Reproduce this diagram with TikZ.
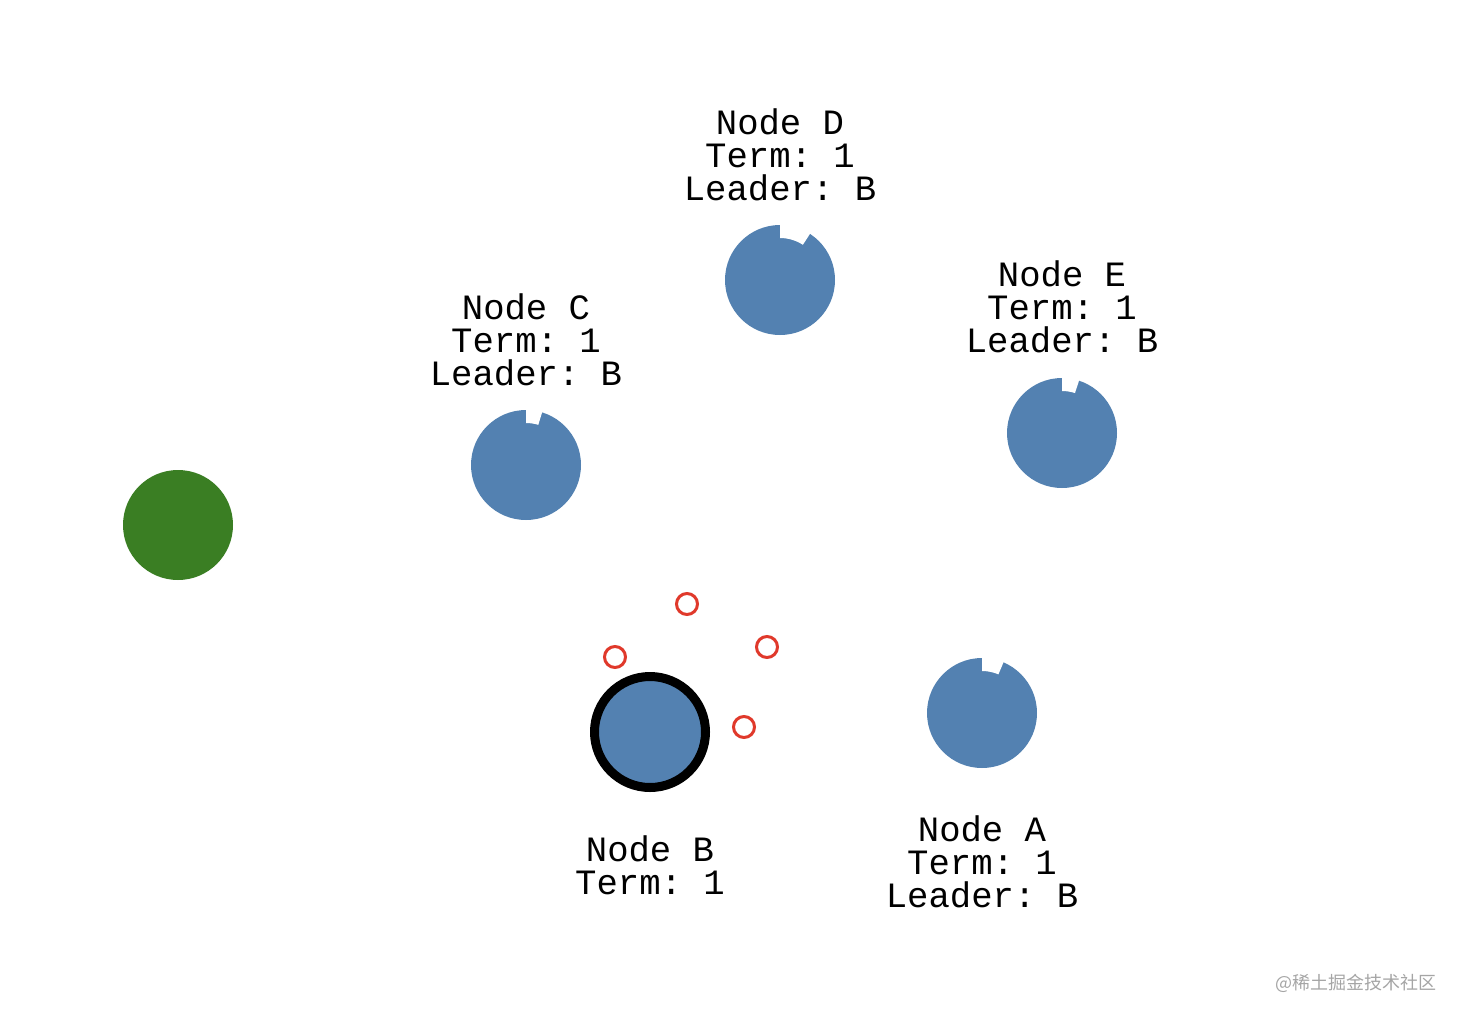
\documentclass[tikz,border=0pt]{standalone}
\usepackage{fontspec}
\setmonofont{Liberation Mono}
\newfontfamily\cjkfont{Noto Sans CJK SC}
\definecolor{nodeblue}{HTML}{5381B1}
\definecolor{candgreen}{HTML}{3A7E23}
\definecolor{votered}{HTML}{E0392B}
\definecolor{wmgray}{HTML}{A5A5A5}
\tikzset{
  lbl/.style={align=center, inner sep=0pt, anchor=base, font=\ttfamily\fontsize{35.6}{33}\selectfont},
  vote/.style={draw=votered, line width=3pt, fill=none},
  notch/.style={fill=white},
}
\begin{document}
\begin{tikzpicture}[x=1pt, y=-1pt]
\useasboundingbox (0,0) rectangle (1462,1020);
% centres
\coordinate (D) at (780,280);
\coordinate (C) at (526,465);
\coordinate (E) at (1062,433);
\coordinate (A) at (982,713);
\coordinate (B) at (650,732);
\coordinate (G) at (178,525);
% follower circles
\fill[nodeblue] (D) circle[radius=55];
\fill[nodeblue] (C) circle[radius=55];
\fill[nodeblue] (E) circle[radius=55];
\fill[nodeblue] (A) circle[radius=55];
% notches (timer cut-outs)
\fill[notch] (D) ++(-90:58) arc[start angle=-90, end angle=-57, radius=58] -- ++(123:16) arc[start angle=-57, end angle=-90, radius=42] -- cycle;
\fill[notch] (C) ++(-90:58) arc[start angle=-90, end angle=-73, radius=58] -- ++(107:16) arc[start angle=-73, end angle=-90, radius=42] -- cycle;
\fill[notch] (E) ++(-90:58) arc[start angle=-90, end angle=-72, radius=58] -- ++(108:16) arc[start angle=-72, end angle=-90, radius=42] -- cycle;
\fill[notch] (A) ++(-90:58) arc[start angle=-90, end angle=-67, radius=58] -- ++(113:16) arc[start angle=-67, end angle=-90, radius=42] -- cycle;
% leader
\draw[line width=9pt, fill=nodeblue] (B) circle[radius=55.5];
% green client
\fill[candgreen] (G) circle[radius=55];
% vote messages
\draw[vote] (687,604) circle[radius=10.5];
\draw[vote] (615,657) circle[radius=10.5];
\draw[vote] (767,647) circle[radius=10.5];
\draw[vote] (744,727) circle[radius=10.5];
% labels (anchor base = baseline of last line)
\node[lbl] (lD) at (780,200) {Node D\\Term: 1\\Leader: B};
\node[lbl] (lC) at (526,385) {Node C\\Term: 1\\Leader: B};
\node[lbl] (lE) at (1062,352) {Node E\\Term: 1\\Leader: B};
\node[lbl] (lB) at (650,894) {Node B\\Term: 1};
\node[lbl] (lA) at (982,907) {Node A\\Term: 1\\Leader: B};
\node[text=wmgray, inner sep=0pt, font=\cjkfont\fontsize{18}{18}\selectfont] (wm) at (1356,983) {@稀土掘金技术社区};
\end{tikzpicture}
\end{document}
